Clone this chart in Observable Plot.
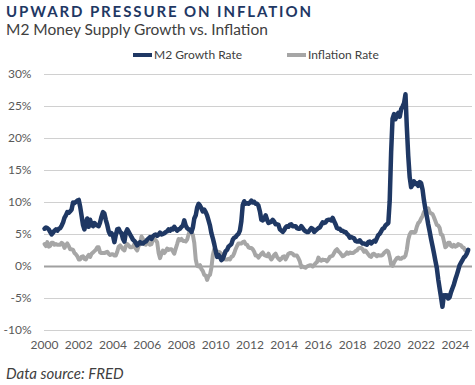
<!DOCTYPE html>
<html>
<head>
<meta charset="utf-8">
<script src="https://cdn.jsdelivr.net/npm/d3@7"></script>
<script src="https://cdn.jsdelivr.net/npm/@observablehq/plot@0.6"></script>
<style>
  html, body { margin: 0; padding: 0; background: #fff; }
  #wrap { position: relative; width: 475px; height: 385px; font-family: Lato, "Open Sans", sans-serif; overflow: hidden; }
  .title { position: absolute; left: 6px; top: 2px; font-size: 15px; font-weight: 700; color: #1f3864; letter-spacing: 1.9px; white-space: nowrap; }
  .subtitle { position: absolute; left: 6px; top: 20px; font-size: 15.5px; color: #404040; white-space: nowrap; }
  .legend { position: absolute; top: 47px; font-size: 12px; color: #404040; white-space: nowrap; display: flex; align-items: center; }
  .sw { display: inline-block; width: 19px; height: 4px; margin-right: 2px; }
  .caption { position: absolute; left: 6px; top: 364px; font-size: 15px; font-style: italic; color: #404040; white-space: nowrap; }
  #chart { position: absolute; left: 0; top: 62px; }
</style>
</head>
<body>
<div id="wrap">
  <div class="title">UPWARD PRESSURE ON INFLATION</div>
  <div class="subtitle">M2 Money Supply Growth vs. Inflation</div>
  <div class="legend" style="left:133px"><span class="sw" style="background:#1f3864"></span>M2 Growth Rate</div>
  <div class="legend" style="left:287px"><span class="sw" style="background:#a6a6a6"></span>Inflation Rate</div>
  <div id="chart"></div>
  <div class="caption">Data source: FRED</div>
</div>
<script>
// Monthly values, Jan 2000 - Oct 2024 (year-over-year %)
const seriesNames = ["M2 Growth Rate", "Inflation Rate"];
const startYear = 2000;
const m2Growth = [
  5.9,6.1,6.0,5.8,5.4,5.0,5.3,5.6,5.8,5.6,5.9,6.0,
  6.4,6.9,7.6,8.0,8.5,8.4,8.6,8.9,10.0,9.9,10.1,10.3,
  10.4,9.3,8.0,6.5,5.8,6.8,7.5,6.2,7.3,6.5,6.3,6.8,
  6.5,6.4,6.3,6.9,7.8,8.5,8.3,7.3,6.5,5.5,5.0,5.2,
  4.8,3.8,4.9,5.8,5.9,5.4,5.2,4.3,3.9,5.3,5.8,5.4,
  5.0,4.6,4.2,4.0,3.7,3.3,3.6,3.8,3.6,3.6,3.8,3.9,
  4.2,4.4,4.6,4.3,4.7,4.9,5.0,4.8,5.0,5.3,5.0,5.1,
  5.2,5.4,5.5,5.8,5.6,5.9,5.8,6.2,5.9,5.6,5.8,5.9,
  6.2,6.4,7.2,6.4,6.0,5.8,5.8,5.4,6.1,7.5,8.0,9.2,
  9.8,9.5,9.1,8.6,8.9,8.5,8.0,7.2,6.4,5.2,4.4,3.5,
  2.4,1.5,1.8,1.5,1.0,1.2,1.8,2.4,2.6,3.1,3.3,3.5,
  4.2,4.5,4.6,4.9,5.1,5.6,7.0,9.6,10.2,9.8,9.9,9.8,
  10.0,10.3,10.0,10.1,9.8,9.8,9.5,8.6,7.3,7.2,7.4,8.0,
  7.3,6.8,6.9,7.0,7.3,7.0,6.6,6.6,6.5,5.8,5.6,5.4,
  5.7,6.1,6.3,6.2,6.5,6.6,6.3,6.3,6.3,6.0,5.9,5.9,
  6.3,6.0,5.7,5.5,5.4,5.4,5.7,6.0,5.9,5.4,5.6,5.8,
  6.0,6.1,6.5,6.9,6.8,6.9,7.2,7.3,7.3,7.2,7.6,7.1,
  6.6,6.0,5.9,5.9,5.6,5.6,5.4,5.4,5.1,4.9,4.5,4.6,
  4.5,4.4,4.0,3.9,3.9,4.1,3.8,3.6,3.6,3.5,3.4,3.8,
  3.9,3.6,3.8,4.0,3.9,4.4,4.9,5.1,5.5,5.9,6.0,6.4,
  6.6,6.8,10.2,17.9,23.1,23.8,23.0,23.6,24.0,23.4,24.6,25.0,
  25.5,26.9,21.9,17.3,14.0,12.4,12.8,13.3,12.9,13.0,12.6,13.2,
  13.0,12.0,10.4,9.0,7.9,6.6,5.5,4.3,3.2,2.1,0.9,-0.2,
  -2.0,-3.5,-4.8,-6.3,-4.5,-4.6,-4.5,-5.0,-4.8,-4.0,-3.4,-2.8,
  -2.0,-1.3,-0.6,0.2,0.6,1.0,1.4,1.6,2.0,2.6
];
const inflation = [
  3.5,3.2,3.8,3.1,3.2,3.7,3.7,3.4,3.5,3.4,3.4,3.4,
  3.7,3.5,2.9,3.3,3.6,3.2,2.7,2.7,2.6,2.1,1.9,1.6,
  1.1,1.1,1.5,1.6,1.2,1.1,1.5,1.8,1.5,2.0,2.2,2.4,
  2.6,3.0,3.0,2.2,2.1,2.1,2.1,2.2,2.3,2.0,1.8,1.9,
  1.9,1.7,1.7,2.3,3.1,3.3,3.0,2.7,2.5,3.2,3.5,3.3,
  3.0,3.0,3.1,3.5,2.8,2.5,3.2,3.6,4.7,4.3,3.5,3.4,
  4.0,3.6,3.4,3.5,4.2,4.3,4.1,3.8,2.1,1.3,2.0,2.5,
  2.1,2.4,2.8,2.6,2.7,2.7,2.4,2.0,2.8,3.5,4.3,4.1,
  4.3,4.0,4.0,3.9,4.2,5.0,5.6,5.4,4.9,3.7,1.1,0.1,
  0.0,0.2,-0.4,-0.7,-1.3,-1.4,-2.1,-1.5,-1.3,-0.2,1.8,2.7,
  2.6,2.1,2.3,2.2,2.0,1.1,1.2,1.1,1.1,1.2,1.1,1.5,
  1.6,2.1,2.7,3.2,3.6,3.6,3.6,3.8,3.9,3.5,3.4,3.0,
  2.9,2.9,2.7,2.3,1.7,1.7,1.4,1.7,2.0,2.2,1.8,1.7,
  1.6,2.0,1.5,1.1,1.4,1.8,2.0,1.5,1.2,1.0,1.2,1.5,
  1.6,1.1,1.5,2.0,2.1,2.1,2.0,1.7,1.7,1.7,1.3,0.8,
  -0.1,0.0,-0.1,-0.2,0.0,0.1,0.2,0.2,0.0,0.2,0.5,0.7,
  1.4,1.0,0.9,1.1,1.0,1.0,0.8,1.1,1.5,1.6,1.7,2.1,
  2.5,2.7,2.4,2.2,1.9,1.6,1.7,1.9,2.2,2.0,2.2,2.1,
  2.1,2.2,2.4,2.5,2.8,2.9,2.9,2.7,2.3,2.5,2.2,1.9,
  1.6,1.5,1.9,2.0,1.8,1.6,1.8,1.7,1.7,1.8,2.1,2.3,
  2.5,2.3,1.5,0.3,0.1,0.6,1.0,1.3,1.4,1.2,1.2,1.4,
  1.4,1.7,2.6,4.2,5.0,5.4,5.4,5.3,5.4,6.2,6.8,7.0,
  7.5,7.9,8.5,8.3,8.6,9.1,8.5,8.3,8.2,7.7,7.1,6.5,
  6.4,6.0,5.0,4.9,4.0,3.0,3.2,3.7,3.7,3.2,3.1,3.4,
  3.1,3.2,3.5,3.4,3.3,3.0,2.9,2.5,2.4,2.6
];
const yTicks = [-10, -5, 0, 5, 10, 15, 20, 25, 30];
const xTickYears = [2000,2002,2004,2006,2008,2010,2012,2014,2016,2018,2020,2022,2024];

const dateOf = i => new Date(Date.UTC(startYear + Math.floor(i / 12), i % 12, 1));
const m2Data = m2Growth.map((v, i) => ({date: dateOf(i), value: v}));
const cpiData = inflation.map((v, i) => ({date: dateOf(i), value: v}));

const chart = Plot.plot({
  width: 475,
  height: 300,
  marginTop: 12,
  marginBottom: 32,
  marginLeft: 44,
  marginRight: 3,
  style: {fontFamily: "Lato, 'Open Sans', sans-serif", fontSize: "12px", color: "#595959", background: "#fff"},
  x: {type: "utc", domain: [new Date(Date.UTC(2000,0,1)), new Date(Date.UTC(2025,0,1))]},
  y: {domain: [-10, 30]},
  marks: [
    Plot.ruleY(yTicks.filter(d => d !== 0), {stroke: "#d0d0d0", strokeWidth: 1.2}),
    Plot.ruleY([0], {stroke: "#a0a0a0", strokeWidth: 2.2}),
    Plot.axisY({ticks: yTicks, tickSize: 0, tickPadding: 13, tickFormat: d => d + "%", label: null, fill: "#595959"}),
    Plot.axisX({ticks: xTickYears.map(y => new Date(Date.UTC(y,0,1))), tickSize: 0, tickPadding: 10, tickFormat: d3.utcFormat("%Y"), label: null, fill: "#595959"}),
    Plot.line(cpiData, {x: "date", y: "value", stroke: "#a6a6a6", strokeWidth: 4, strokeLinejoin: "round"}),
    Plot.line(m2Data, {x: "date", y: "value", stroke: "#1f3864", strokeWidth: 4.5, strokeLinejoin: "round"})
  ]
});
document.getElementById("chart").appendChild(chart);
</script>
</body>
</html>
